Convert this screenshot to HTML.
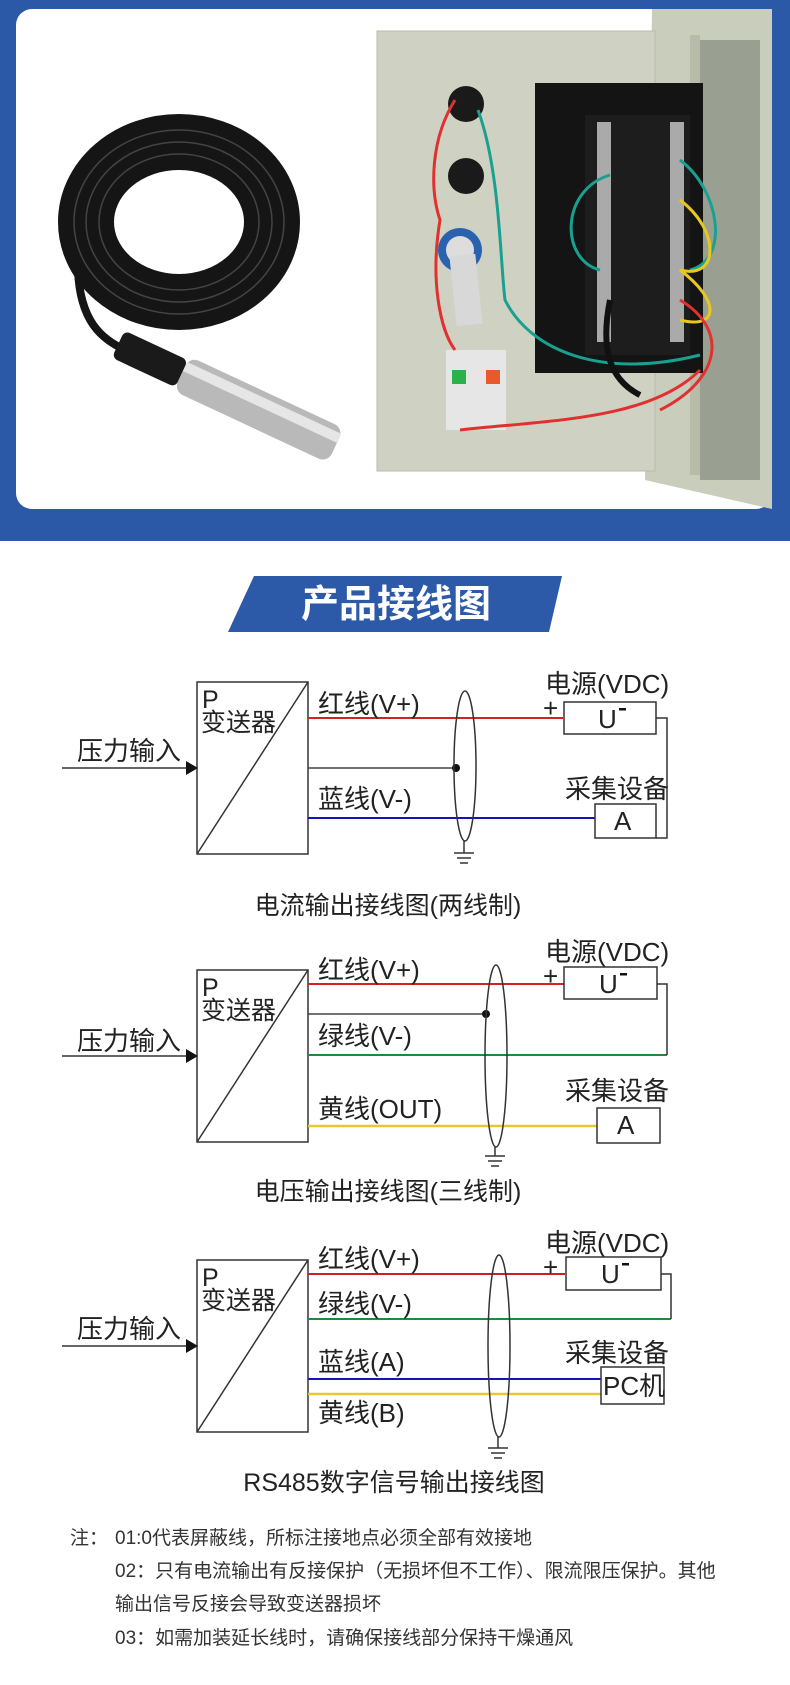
<!DOCTYPE html>
<html><head><meta charset="utf-8"><style>
html,body{margin:0;padding:0;background:#fff;}
body{width:790px;height:1680px;overflow:hidden;position:relative;font-family:"Liberation Sans","Noto Sans CJK SC",sans-serif;}
svg text{font-family:"Liberation Sans","Noto Sans CJK SC",sans-serif;}
</style></head><body>
<svg width="790" height="1680" viewBox="0 0 790 1680" xmlns="http://www.w3.org/2000/svg">
<rect x="0" y="0" width="790" height="541" fill="#2c58a8"/>
<rect x="16" y="9" width="756" height="500" rx="16" fill="#fff"/>
<polygon points="652,9 772,9 772,509 645,480" fill="#c9cdbc"/>
<rect x="700" y="40" width="60" height="440" fill="#9aa091"/>
<rect x="690" y="35" width="10" height="440" fill="#b9bba9"/>
<rect x="377" y="31" width="278" height="440" fill="#cfd2c2" stroke="#b8bba9"/>
<rect x="535" y="83" width="168" height="290" fill="#141414"/>
<rect x="585" y="115" width="105" height="240" fill="#1d1d1d"/>
<g fill="#aaa">
<rect x="597" y="122" width="14" height="220"/><rect x="670" y="122" width="14" height="220"/>
</g>
<circle cx="466" cy="104" r="18" fill="#1a1a1a"/><circle cx="466" cy="176" r="18" fill="#1a1a1a"/>
<circle cx="460" cy="250" r="22" fill="#2a62b0"/><circle cx="460" cy="250" r="14" fill="#ddd"/>
<rect x="453" y="255" width="26" height="70" fill="#d8d8d8" transform="rotate(-6 466 290)"/>
<rect x="446" y="350" width="60" height="80" fill="#e6e6e6"/>
<rect x="452" y="370" width="14" height="14" fill="#2bb04a"/><rect x="486" y="370" width="14" height="14" fill="#e85a2a"/>
<g fill="none" stroke-width="3">
<path d="M455,100 C430,140 430,190 440,220 C430,280 440,330 455,350" stroke="#e03030"/>
<path d="M478,110 C500,170 500,260 505,300 C530,350 600,380 700,355" stroke="#1aa090"/>
<path d="M460,430 C550,420 650,420 700,370" stroke="#e03030"/>
<path d="M610,175 C560,190 560,260 600,270" stroke="#1aa090"/>
<path d="M680,160 C720,190 730,260 690,270" stroke="#1aa090"/>
<path d="M680,200 C720,230 720,280 680,270 C720,300 720,330 680,320" stroke="#e8c820"/>
<path d="M610,300 C600,350 610,380 640,395" stroke="#111" stroke-width="6"/>
<path d="M680,300 C730,330 720,380 660,410" stroke="#e03030"/>
</g>
<!-- cable coil -->
<ellipse cx="179" cy="222" rx="93" ry="80" fill="none" stroke="#151515" stroke-width="56"/>
<ellipse cx="179" cy="222" rx="105" ry="92" fill="none" stroke="#444" stroke-width="1.5"/>
<ellipse cx="179" cy="222" rx="93" ry="80" fill="none" stroke="#444" stroke-width="1.5"/>
<ellipse cx="179" cy="222" rx="80" ry="68" fill="none" stroke="#444" stroke-width="1.5"/>
<path d="M78,270 C80,320 100,340 130,352" fill="none" stroke="#151515" stroke-width="8"/>
<g transform="rotate(25 120 345)">
<rect x="118" y="330" width="70" height="30" rx="6" fill="#1a1a1a"/>
<rect x="188" y="326" width="170" height="38" rx="10" fill="#b9b9b9"/>
<rect x="188" y="332" width="170" height="10" fill="#e6e6e6"/>
</g>
<polygon points="254,576 562,576 549,632 228,632" fill="#2c5aa8"/>
<text x="396" y="617" font-size="38" font-weight="bold" fill="#fff" text-anchor="middle">产品接线图</text>

<g font-size="26" fill="#222">
<!-- Diagram 1 -->
<rect x="197" y="682" width="111" height="172" fill="none" stroke="#333" stroke-width="1.5"/>
<line x1="197" y1="854" x2="308" y2="682" stroke="#333" stroke-width="1.5"/>
<text x="202" y="708" font-size="25">P</text><text x="201" y="731" font-size="25">变送器</text>
<text x="77" y="760">压力输入</text>
<line x1="62" y1="768" x2="188" y2="768" stroke="#333" stroke-width="1.5"/><polygon points="186,761 198,768 186,775" fill="#111"/>
<line x1="308" y1="718" x2="563" y2="718" stroke="#d42222" stroke-width="2"/>
<text x="318" y="713">红线(V+)</text>
<line x1="308" y1="768" x2="456" y2="768" stroke="#444" stroke-width="1.5"/><circle cx="456" cy="768" r="4" fill="#111"/>
<line x1="308" y1="818" x2="595" y2="818" stroke="#1515b5" stroke-width="2"/>
<text x="318" y="808">蓝线(V-)</text>
<ellipse cx="465" cy="766" rx="11" ry="75" fill="none" stroke="#333" stroke-width="1.5"/>
<line x1="464" y1="841" x2="464" y2="853" stroke="#333" stroke-width="1.5"/>
<line x1="454" y1="853" x2="474" y2="853" stroke="#333" stroke-width="1.5"/><line x1="457" y1="858" x2="471" y2="858" stroke="#333" stroke-width="1.5"/><line x1="460" y1="863" x2="468" y2="863" stroke="#333" stroke-width="1.5"/>
<text x="545" y="693">电源(VDC)</text>
<text x="543" y="717">+</text>
<rect x="564" y="702" width="92" height="32" fill="#fff" stroke="#333" stroke-width="1.5"/>
<text x="598" y="728">U</text><rect x="619" y="708" width="7" height="2.5" fill="#111"/>
<polyline points="656,718 667,718 667,838 656,838" fill="none" stroke="#333" stroke-width="1.5"/>
<text x="565" y="798">采集设备</text>
<rect x="595" y="804" width="61" height="34" fill="#fff" stroke="#333" stroke-width="1.5"/>
<text x="614" y="830">A</text>
<text x="388" y="914" font-size="25" text-anchor="middle">电流输出接线图(两线制)</text>

<!-- Diagram 2 -->
<rect x="197" y="970" width="111" height="172" fill="none" stroke="#333" stroke-width="1.5"/>
<line x1="197" y1="1142" x2="308" y2="970" stroke="#333" stroke-width="1.5"/>
<text x="202" y="996" font-size="25">P</text><text x="201" y="1019" font-size="25">变送器</text>
<text x="77" y="1050">压力输入</text>
<line x1="62" y1="1056" x2="188" y2="1056" stroke="#333" stroke-width="1.5"/><polygon points="186,1049 198,1056 186,1063" fill="#111"/>
<line x1="308" y1="984" x2="564" y2="984" stroke="#d42222" stroke-width="2"/>
<text x="318" y="979">红线(V+)</text>
<line x1="308" y1="1014" x2="486" y2="1014" stroke="#444" stroke-width="1.5"/><circle cx="486" cy="1014" r="4" fill="#111"/>
<line x1="308" y1="1055" x2="667" y2="1055" stroke="#1e8a3c" stroke-width="2"/>
<text x="318" y="1045">绿线(V-)</text>
<line x1="308" y1="1126" x2="597" y2="1126" stroke="#e6c830" stroke-width="2.5"/>
<text x="318" y="1118">黄线(OUT)</text>
<ellipse cx="496" cy="1056" rx="11" ry="91" fill="none" stroke="#333" stroke-width="1.5"/>
<line x1="495" y1="1147" x2="495" y2="1156" stroke="#333" stroke-width="1.5"/>
<line x1="485" y1="1156" x2="505" y2="1156" stroke="#333" stroke-width="1.5"/><line x1="488" y1="1161" x2="502" y2="1161" stroke="#333" stroke-width="1.5"/><line x1="491" y1="1166" x2="499" y2="1166" stroke="#333" stroke-width="1.5"/>
<text x="545" y="961">电源(VDC)</text>
<text x="543" y="985">+</text>
<rect x="564" y="967" width="93" height="32" fill="#fff" stroke="#333" stroke-width="1.5"/>
<text x="599" y="993">U</text><rect x="620" y="973" width="7" height="2.5" fill="#111"/>
<polyline points="657,984 667,984 667,1055" fill="none" stroke="#333" stroke-width="1.5"/>
<text x="565" y="1100">采集设备</text>
<rect x="597" y="1108" width="63" height="35" fill="#fff" stroke="#333" stroke-width="1.5"/>
<text x="617" y="1134">A</text>
<text x="388" y="1200" font-size="25" text-anchor="middle">电压输出接线图(三线制)</text>

<!-- Diagram 3 -->
<rect x="197" y="1260" width="111" height="172" fill="none" stroke="#333" stroke-width="1.5"/>
<line x1="197" y1="1432" x2="308" y2="1260" stroke="#333" stroke-width="1.5"/>
<text x="202" y="1286" font-size="25">P</text><text x="201" y="1309" font-size="25">变送器</text>
<text x="77" y="1338">压力输入</text>
<line x1="62" y1="1346" x2="188" y2="1346" stroke="#333" stroke-width="1.5"/><polygon points="186,1339 198,1346 186,1353" fill="#111"/>
<line x1="308" y1="1274" x2="565" y2="1274" stroke="#c82222" stroke-width="2"/>
<text x="318" y="1268">红线(V+)</text>
<line x1="308" y1="1319" x2="671" y2="1319" stroke="#1e8a3c" stroke-width="2"/>
<text x="318" y="1313">绿线(V-)</text>
<line x1="308" y1="1379" x2="601" y2="1379" stroke="#1515b5" stroke-width="2"/>
<text x="318" y="1371">蓝线(A)</text>
<line x1="308" y1="1394" x2="601" y2="1394" stroke="#e6c830" stroke-width="2.5"/>
<text x="318" y="1422">黄线(B)</text>
<ellipse cx="499" cy="1346" rx="11" ry="91" fill="none" stroke="#333" stroke-width="1.5"/>
<line x1="498" y1="1437" x2="498" y2="1448" stroke="#333" stroke-width="1.5"/>
<line x1="488" y1="1448" x2="508" y2="1448" stroke="#333" stroke-width="1.5"/><line x1="491" y1="1453" x2="505" y2="1453" stroke="#333" stroke-width="1.5"/><line x1="494" y1="1458" x2="502" y2="1458" stroke="#333" stroke-width="1.5"/>
<text x="545" y="1252">电源(VDC)</text>
<text x="543" y="1276">+</text>
<rect x="566" y="1257" width="95" height="33" fill="#fff" stroke="#333" stroke-width="1.5"/>
<text x="601" y="1283">U</text><rect x="622" y="1263" width="7" height="2.5" fill="#111"/>
<polyline points="661,1274 671,1274 671,1319" fill="none" stroke="#333" stroke-width="1.5"/>
<text x="565" y="1362">采集设备</text>
<rect x="601" y="1367" width="63" height="37" fill="#fff" stroke="#333" stroke-width="1.5"/>
<text x="603" y="1395">PC机</text>
<text x="394" y="1491" font-size="25" text-anchor="middle">RS485数字信号输出接线图</text>
</g>

<g font-size="19" fill="#333">
<text x="70" y="1544">注：</text>
<text x="115" y="1544">01:0代表屏蔽线，所标注接地点必须全部有效接地</text>
<text x="115" y="1577">02：只有电流输出有反接保护（无损坏但不工作）、限流限压保护。其他</text>
<text x="115" y="1610">输出信号反接会导致变送器损坏</text>
<text x="115" y="1644">03：如需加装延长线时，请确保接线部分保持干燥通风</text>
</g>
</svg>
</body></html>
